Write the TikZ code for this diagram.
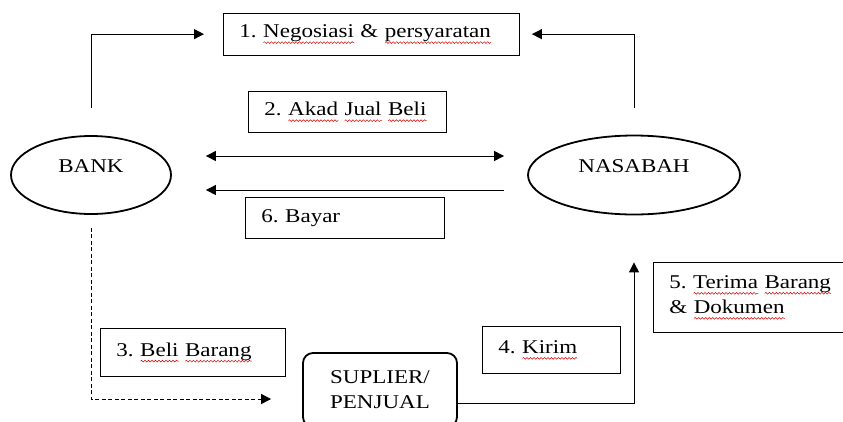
\documentclass[tikz,border=0pt]{standalone}
\usepackage{fontspec}
\setmainfont{Liberation Serif}[FakeStretch=1.18, WordSpace=0.75]
\usetikzlibrary{arrows.meta,shapes.geometric,decorations.pathmorphing}
\frenchspacing

% red wavy underline of the spell checker
\newcommand{\typo}[1]{\leavevmode\setbox0\hbox{#1}\rlap{\tikz[baseline=0pt]\draw[red!85!black, line width=0.5pt, decorate, decoration={snake, amplitude=0.9pt, segment length=3.5pt}] (0pt,-5pt) -- (\wd0,-5pt);}\box0\relax}

\begin{document}
\begin{tikzpicture}[x=1pt, y=-1pt,
  every node/.style={font=\fontsize{19.5}{25}\selectfont},
  box/.style={draw, line width=0.9pt, anchor=north west, inner xsep=16pt, inner ysep=0pt, align=left},
  party/.style={draw, ellipse, line width=1.8pt},
  flow/.style={line width=1pt, -{Triangle[length=10pt, width=10pt]}}]
\useasboundingbox (0,0) rectangle (843,421);

\node[party, minimum width=160, minimum height=78, label={[yshift=9pt]center:BANK}] (bank) at (91,175) {};
\node[party, minimum width=212, minimum height=79, label={[yshift=9pt]center:NASABAH}] (nasabah) at (634,175) {};

\node[box, minimum width=296, minimum height=42, text width=264] (negosiasi) at (223,12.7) {1. \typo{Negosiasi} \& \typo{persyaratan}};
\node[box, minimum width=198, minimum height=41, text width=166] (akad) at (248,91) {2. \typo{Akad} \typo{Jual} \typo{Beli}};
\node[box, minimum width=199, minimum height=41, text width=167] (bayar) at (245,197) {6. Bayar};
\node[box, minimum width=185, minimum height=48, text width=153] (beli) at (100,328) {3. \typo{Beli} \typo{Barang}};
\node[box, minimum width=138, minimum height=47, text width=106] (kirim) at (482,326) {4. \typo{Kirim}};
\node[box, minimum width=210, minimum height=70, text width=178] (terima) at (653,262) {5. \typo{Terima} \typo{Barang}\\\& \typo{Dokumen}};

\node[draw, rounded corners=10pt, line width=1.8pt, minimum width=154, minimum height=74, align=center] (suplier) at (380,390) {SUPLIER/\\PENJUAL};

\draw[flow, shorten <=27pt, shorten >=19pt] (bank.north) |- (negosiasi.west);
\draw[flow, shorten <=27pt, shorten >=12pt] (nasabah.north) |- (negosiasi.east);

\draw[line width=1pt, {Triangle[length=10pt, width=10pt]}-{Triangle[length=10pt, width=10pt]}, shorten <=34pt, shorten >=23pt] ([yshift=19pt]bank.east) -- ([yshift=19pt]nasabah.west);
\draw[flow, shorten <=23pt, shorten >=34pt] ([yshift=-15pt]nasabah.west) -- ([yshift=-15pt]bank.east);

\draw[flow, dash pattern=on 4pt off 2.5pt, shorten <=13pt, shorten >=31pt] (bank.south) |- ([yshift=-9pt]suplier.west);
\draw[flow, shorten >=47pt] ([yshift=-13pt]suplier.east) -| (nasabah.south);
\end{tikzpicture}
\end{document}
